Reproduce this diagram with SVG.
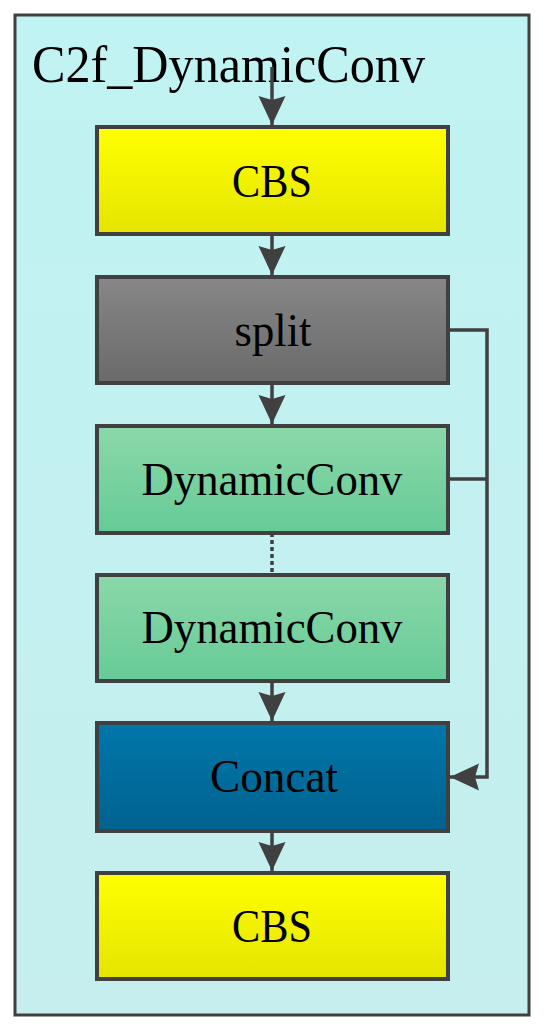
<svg xmlns="http://www.w3.org/2000/svg" width="550" height="1034" viewBox="0 0 550 1034">
<style>
.box{stroke:#404040;stroke-width:4}
.lbl{font-family:"Liberation Serif","Times New Roman",serif;font-size:46px;fill:#000;text-anchor:middle}
.ln{fill:none;stroke:#404040;stroke-width:3.5}
</style>
<defs>
<linearGradient id="gBg" x1="0" y1="0" x2="0" y2="1"><stop offset="0" stop-color="#c0f3f3"/><stop offset="1" stop-color="#c6eeee"/></linearGradient>
<linearGradient id="gY" x1="0" y1="0" x2="0" y2="1"><stop offset="0" stop-color="#ffff00"/><stop offset="1" stop-color="#e4e400"/></linearGradient>
<linearGradient id="gS" x1="0" y1="0" x2="0" y2="1"><stop offset="0" stop-color="#878787"/><stop offset="1" stop-color="#6a6a6a"/></linearGradient>
<linearGradient id="gD" x1="0" y1="0" x2="0" y2="1"><stop offset="0" stop-color="#8bd8a9"/><stop offset="1" stop-color="#66cb97"/></linearGradient>
<linearGradient id="gC" x1="0" y1="0" x2="0" y2="1"><stop offset="0" stop-color="#0077aa"/><stop offset="1" stop-color="#00628f"/></linearGradient>
<marker id="ar" markerUnits="userSpaceOnUse" markerWidth="40" markerHeight="40" viewBox="0 -20 40 40" refX="29" refY="0" orient="auto" overflow="visible">
<path d="M29,0 L0,-13.5 L4,0 L0,13.5 Z" fill="#404040"/>
</marker>
</defs>
<rect x="15" y="15" width="514" height="1000" fill="url(#gBg)" stroke="#404040" stroke-width="3"/>
<text x="32" y="82" font-family="Liberation Serif,'Times New Roman',serif" font-size="53" textLength="393" lengthAdjust="spacingAndGlyphs">C2f_DynamicConv</text>
<g id="connectors">
<path class="ln" d="M272,67 L272,125" marker-end="url(#ar)"/>
<path class="ln" d="M272,234 L272,275" marker-end="url(#ar)"/>
<path class="ln" d="M272,383 L272,424" marker-end="url(#ar)"/>
<path class="ln" d="M272,533 L272,575" stroke-dasharray="4,3"/>
<path class="ln" d="M272,681 L272,721" marker-end="url(#ar)"/>
<path class="ln" d="M272,831 L272,871" marker-end="url(#ar)"/>
<path class="ln" d="M448,330 L487,330 L487,777 L450,777" marker-end="url(#ar)"/>
<path class="ln" d="M448,479 L487,479"/>
</g>
<g id="cbs1"><rect class="box" x="97" y="127" width="351" height="107" fill="url(#gY)"/><text class="lbl" x="272" y="197" textLength="80" lengthAdjust="spacingAndGlyphs">CBS</text></g>
<g id="split"><rect class="box" x="97" y="277" width="351" height="106" fill="url(#gS)"/><text class="lbl" x="273" y="346" textLength="77" lengthAdjust="spacingAndGlyphs">split</text></g>
<g id="dyn1"><rect class="box" x="97" y="426" width="351" height="107" fill="url(#gD)"/><text class="lbl" x="272" y="495" textLength="261" lengthAdjust="spacingAndGlyphs">DynamicConv</text></g>
<g id="dyn2"><rect class="box" x="97" y="575" width="351" height="106" fill="url(#gD)"/><text class="lbl" x="272" y="643" textLength="261" lengthAdjust="spacingAndGlyphs">DynamicConv</text></g>
<g id="concat"><rect class="box" x="97" y="723" width="351" height="108" fill="url(#gC)"/><text class="lbl" x="274" y="792" textLength="128" lengthAdjust="spacingAndGlyphs">Concat</text></g>
<g id="cbs2"><rect class="box" x="97" y="873" width="351" height="106" fill="url(#gY)"/><text class="lbl" x="272" y="942" textLength="80" lengthAdjust="spacingAndGlyphs">CBS</text></g>
</svg>
